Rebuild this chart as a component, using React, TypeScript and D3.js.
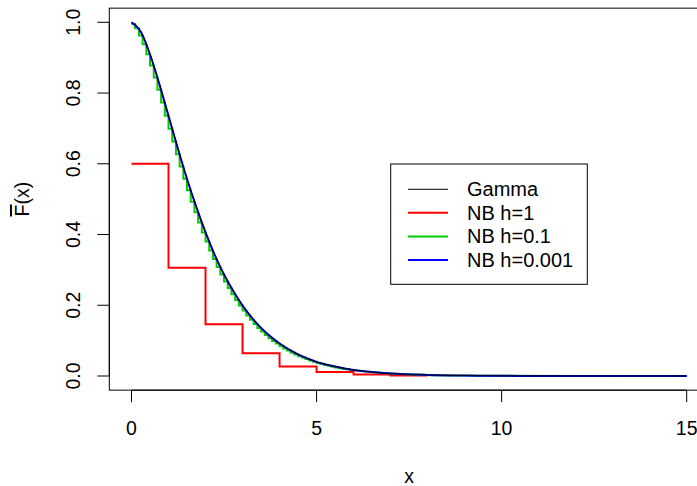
import React from "react";
import * as d3 from "d3";

// Gamma survival curve
const gammaX = [0, 0.25, 0.5, 0.75, 1, 1.25, 1.5, 1.75, 2, 2.25, 2.5, 2.75, 3, 3.25, 3.5, 3.75, 4, 4.5, 5, 5.5, 6, 6.5, 7, 8, 9, 10, 11, 12, 13, 14, 15];
const gammaY = [1.0, 0.974, 0.910, 0.827, 0.736, 0.645, 0.558, 0.478, 0.406, 0.343, 0.287, 0.240, 0.199, 0.165, 0.136, 0.112, 0.092, 0.061, 0.040, 0.027, 0.017, 0.011, 0.007, 0.003, 0.0012, 0.0005, 0.0002, 0.0001, 0.00004, 0.00002, 0.00001];

// NB h=0.001 (indistinguishable from the Gamma curve)
const nb0001X = gammaX;
const nb0001Y = [1.0, 0.973, 0.909, 0.826, 0.735, 0.644, 0.557, 0.478, 0.406, 0.342, 0.287, 0.240, 0.199, 0.165, 0.136, 0.112, 0.092, 0.061, 0.040, 0.027, 0.017, 0.011, 0.007, 0.003, 0.0012, 0.0005, 0.0002, 0.0001, 0.00004, 0.00002, 0.00001];

// NB h=0.1 step values (each step 0.1 wide, from x = 0 to 6)
const nb01Step = 0.1;
const nb01Y = [
  0.995, 0.983, 0.963, 0.938, 0.910, 0.878, 0.844, 0.809, 0.773, 0.736,
  0.699, 0.663, 0.627, 0.592, 0.558, 0.525, 0.493, 0.463, 0.434, 0.406,
  0.380, 0.355, 0.331, 0.308, 0.287, 0.267, 0.249, 0.231, 0.215, 0.199,
  0.185, 0.171, 0.159, 0.147, 0.136, 0.126, 0.116, 0.107, 0.099, 0.092,
  0.085, 0.078, 0.072, 0.066, 0.061, 0.056, 0.052, 0.048, 0.044, 0.040,
  0.037, 0.034, 0.031, 0.029, 0.026, 0.024, 0.022, 0.020, 0.019, 0.017,
];
const nb01TailX = [6, 6.5, 7, 8, 9, 10, 12, 15];
const nb01TailY = [0.017, 0.011, 0.007, 0.003, 0.0012, 0.0005, 0.0001, 0.00001];

// NB h=1 step values (each step 1 wide)
const nb1Step = 1;
const nb1Y = [0.6, 0.306, 0.146, 0.064, 0.027, 0.011, 0.004, 0.0015];

const xTicks = [0, 5, 10, 15];
const yTicks = [0, 0.2, 0.4, 0.6, 0.8, 1.0];

const legendLabels = ["Gamma", "NB h=1", "NB h=0.1", "NB h=0.001"];
const legendColors = ["#000000", "#FF0000", "#00CD00", "#0000FF"];
const legendWidths = [1, 2, 2, 2];

export default function App() {
  const W = 697, H = 486;
  const x = d3.scaleLinear().domain([-0.6, 15.6]).range([109.3, 708.9]);
  const y = d3.scaleLinear().domain([-0.04, 1.04]).range([390.15, 8.15]);
  const font = "'Liberation Sans', Arial, Helvetica, sans-serif";

  const smooth = d3.line<[number, number]>().x(d => x(d[0])).y(d => y(d[1])).curve(d3.curveMonotoneX);
  const step = d3.line<[number, number]>().x(d => x(d[0])).y(d => y(d[1])).curve(d3.curveStepAfter);

  const gammaPts: [number, number][] = gammaX.map((v, i) => [v, gammaY[i]]);
  const nb0001Pts: [number, number][] = nb0001X.map((v, i) => [v, nb0001Y[i]]);

  const nb01Pts: [number, number][] = nb01Y.map((v, i) => [i * nb01Step, v]);
  nb01Pts.push([nb01Y.length * nb01Step, nb01Y[nb01Y.length - 1]]);
  const nb01TailPts: [number, number][] = nb01TailX.map((v, i) => [v, nb01TailY[i]]);

  const nb1Pts: [number, number][] = nb1Y.map((v, i) => [i * nb1Step, v]);
  nb1Pts.push([nb1Y.length * nb1Step, nb1Y[nb1Y.length - 1]]);

  const [x0, x1] = x.range();
  const [yb, yt] = y.range();

  const lgX = 390.7, lgY = 164, lgW = 196.6, lgH = 120.3;
  const lgRow0 = 189.3, lgDy = 23.57;

  return (
    <svg width={W} height={H} style={{ position: "absolute", left: 0, top: 0, background: "#fff" }}>
      <rect x={0} y={0} width={W} height={H} fill="#fff" />
      <defs>
        <clipPath id="plotclip">
          <rect x={x0} y={yt} width={x1 - x0} height={yb - yt} />
        </clipPath>
      </defs>
      <g clipPath="url(#plotclip)">
        <path d={step(nb1Pts) || ""} fill="none" stroke="#FF0000" strokeWidth={2} />
        <path d={step(nb01Pts) || ""} fill="none" stroke="#00CD00" strokeWidth={2} />
        <path d={smooth(nb01TailPts) || ""} fill="none" stroke="#00CD00" strokeWidth={2} />
        <path d={smooth(nb0001Pts) || ""} fill="none" stroke="#0000FF" strokeWidth={2} />
        <path d={smooth(gammaPts) || ""} fill="none" stroke="#000000" strokeWidth={1} />
      </g>
      <rect x={x0} y={yt} width={x1 - x0} height={yb - yt} fill="none" stroke="#000" strokeWidth={1} />

      {/* y axis */}
      <line x1={x0} x2={x0} y1={y(0)} y2={y(1)} stroke="#000" />
      {yTicks.map(t => (
        <g key={t}>
          <line x1={x0 - 12} x2={x0} y1={y(t)} y2={y(t)} stroke="#000" />
          <text transform={`translate(80,${y(t)}) rotate(-90)`} textAnchor="middle" fontFamily={font} fontSize={19.5} fill="#000">
            {t.toFixed(1)}
          </text>
        </g>
      ))}
      {/* x axis */}
      <line x1={x(0)} x2={x(15)} y1={yb} y2={yb} stroke="#000" />
      {xTicks.map(t => (
        <g key={t}>
          <line x1={x(t)} x2={x(t)} y1={yb} y2={yb + 12} stroke="#000" />
          <text x={x(t)} y={435} textAnchor="middle" fontFamily={font} fontSize={19.5} fill="#000">{t}</text>
        </g>
      ))}
      <text x={(x0 + x1) / 2} y={482.5} textAnchor="middle" fontFamily={font} fontSize={19.5} fill="#000">x</text>
      <text transform={`translate(29,${(yt + yb) / 2}) rotate(-90)`} textAnchor="middle" fontFamily={font} fontSize={19.5} fill="#000">
        <tspan style={{ textDecoration: "overline" }}>F</tspan>(x)
      </text>

      {/* legend */}
      <rect x={lgX} y={lgY} width={lgW} height={lgH} fill="#fff" stroke="#000" strokeWidth={1} />
      {legendLabels.map((lab, i) => (
        <g key={lab}>
          <line x1={408} x2={448} y1={lgRow0 + i * lgDy} y2={lgRow0 + i * lgDy} stroke={legendColors[i]} strokeWidth={legendWidths[i]} />
          <text x={467} y={lgRow0 + i * lgDy} dy="0.35em" fontFamily={font} fontSize={20} fill="#000">{lab}</text>
        </g>
      ))}
    </svg>
  );
}
